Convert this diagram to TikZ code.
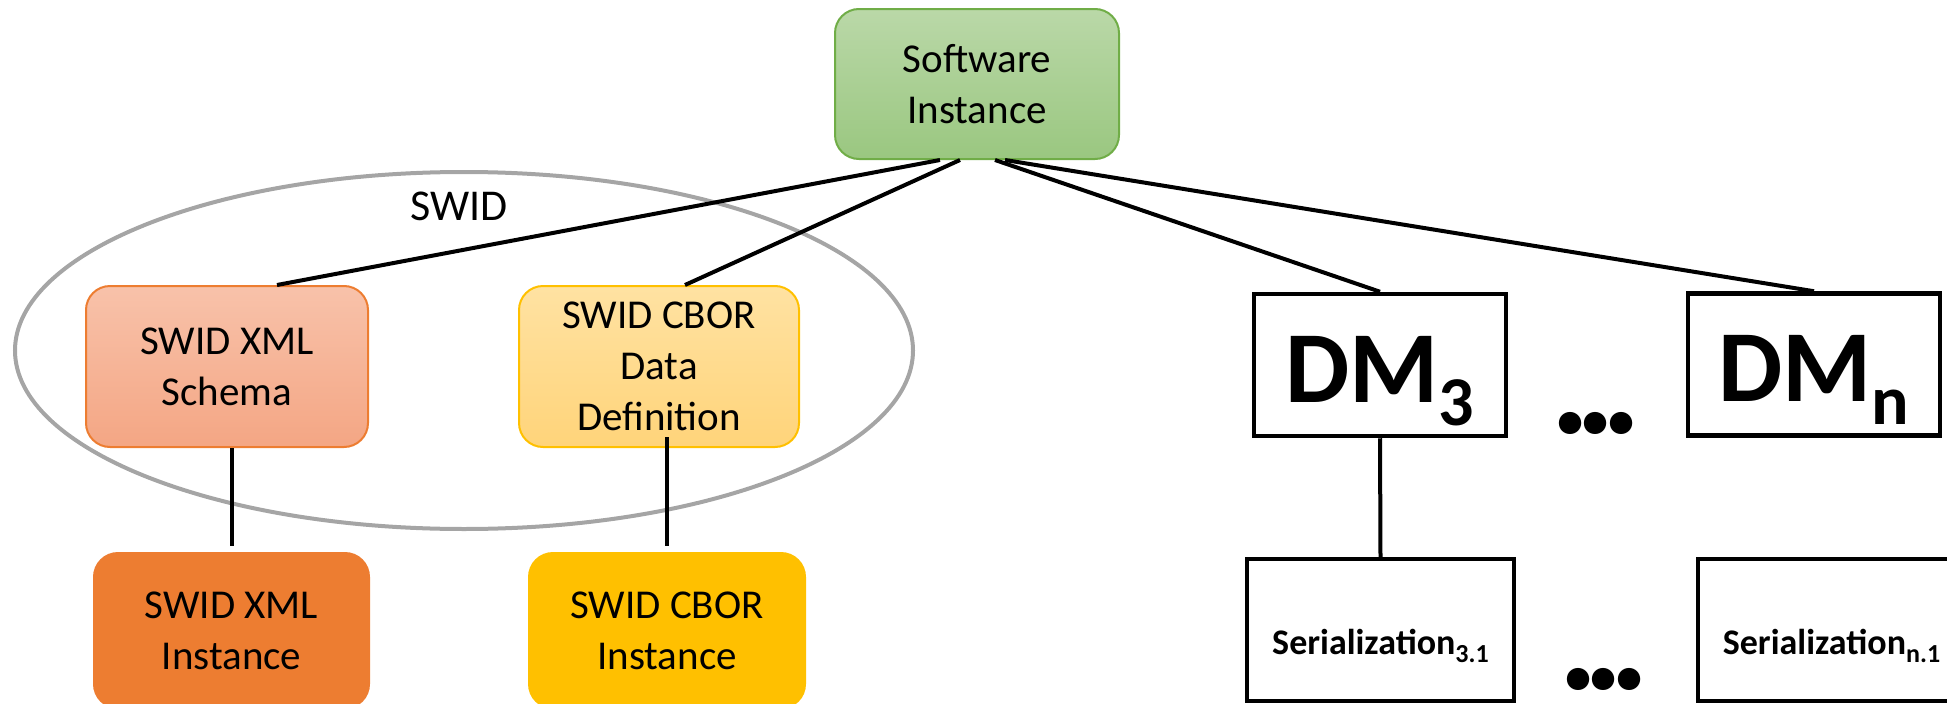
\documentclass[tikz,border=0pt]{standalone}
\usepackage{fontspec}
\setmainfont{Carlito}
\usepackage{tikz}
\usetikzlibrary{shapes,calc}
\definecolor{softtop}{RGB}{186,216,168}
\definecolor{softbot}{RGB}{154,199,128}
\definecolor{softline}{RGB}{112,173,71}
\definecolor{schematop}{RGB}{248,194,170}
\definecolor{schemabot}{RGB}{244,166,132}
\definecolor{xmlline}{RGB}{237,125,49}
\definecolor{deftop}{RGB}{255,226,162}
\definecolor{defbot}{RGB}{255,212,122}
\definecolor{cborline}{RGB}{255,192,0}
\definecolor{ringgray}{RGB}{165,165,165}
\tikzset{
	model/.style     = {draw, rounded corners=24pt, line width=2pt, align=center,
		inner sep=0pt, font=\fontsize{41}{51}\selectfont},
	softbox/.style   = {model, draw=softline, top color=softtop, bottom color=softbot,
		minimum width=284pt, minimum height=150pt},
	schemabox/.style = {model, draw=xmlline, top color=schematop, bottom color=schemabot,
		minimum width=282pt, minimum height=161pt},
	defbox/.style    = {model, draw=cborline, top color=deftop, bottom color=defbot,
		minimum width=280pt, minimum height=161pt},
	xmlbox/.style    = {model, draw=xmlline, fill=xmlline,
		minimum width=275pt, minimum height=155pt},
	cborbox/.style   = {model, draw=cborline, fill=cborline,
		minimum width=276pt, minimum height=155pt},
	dmbox/.style     = {draw, line width=4.5pt, minimum width=252pt, minimum height=142pt,
		inner sep=0pt, text height=100pt, text depth=26pt,
		font=\fontsize{102}{102}\selectfont\bfseries},
	serbox/.style    = {draw, line width=4pt, minimum width=267pt, minimum height=142pt,
		inner sep=0pt, text height=48pt, text depth=0pt,
		font=\fontsize{36}{36}\selectfont\bfseries},
	dotsnode/.style  = {inner sep=0pt, font=\fontsize{150}{150}\selectfont\bfseries},
	ringlabel/.style = {inner sep=0pt, font=\fontsize{44}{44}\selectfont},
	link/.style      = {line width=4pt}
}
\newcommand{\dmname}[1]{DM\raisebox{-23pt}{\fontsize{70}{70}\selectfont #1}}
\newcommand{\sername}[1]{Serialization\raisebox{-8pt}{\fontsize{26}{26}\selectfont #1}}
\newcommand{\more}{.\kern-15pt.\kern-15pt.}

\begin{document}
\begin{tikzpicture}[x=1pt, y=-1pt]
	\useasboundingbox (0,0) rectangle (1947,704);
	\draw[ringgray, line width=4pt] (464,350.5) ellipse [x radius=449, y radius=178.5];
	
	\draw
	node at (977,84) [softbox] (soft) {Software\\Instance}
	node at (227,366.5) [schemabox] (xmlschema) {SWID XML\\Schema}
	node at (659,366.5) [defbox] (cbordef) {SWID CBOR\\Data\\Definition}
	node at (231.5,630.5) [xmlbox] (xmlinst) {SWID XML\\Instance}
	node at (667,630.5) [cborbox] (cborinst) {SWID CBOR\\Instance}
	node at (1380,365) [dmbox] (dm3) {\dmname{3}}
	node at (1814,364.5) [dmbox] (dmn) {\dmname{n}}
	node at (1380.5,630) [serbox] (ser31) {\sername{3.1}}
	node at (1831.5,630) [serbox] (sern1) {\sername{n.1}}
	node at (1596,423) [dotsnode] (dmdots) {\more}
	node at (1604,679) [dotsnode] (serdots) {\more}
	node at (459,206) [ringlabel] (swid) {SWID};
	
	\coordinate (deftail) at ($(cborinst.north |- cbordef.south)+(0,-11)$);
	
	\draw[link] ([xshift=-37pt]soft.south) -- ([xshift=50pt]xmlschema.north);
	\draw[link] ([xshift=-17pt]soft.south) -- ([xshift=26pt]cbordef.north);
	\draw[link] ([xshift=18pt]soft.south) -- (dm3.north);
	\draw[link] ([xshift=28pt]soft.south) -- (dmn.north);
	\draw[link] (xmlinst.north |- xmlschema.south) -- ([yshift=6pt]xmlinst.north);
	\draw[link] (deftail) -- ([yshift=6pt]cborinst.north);
	\draw[link] (dm3.south) -- (ser31.north);
	
\end{tikzpicture}
\end{document}
